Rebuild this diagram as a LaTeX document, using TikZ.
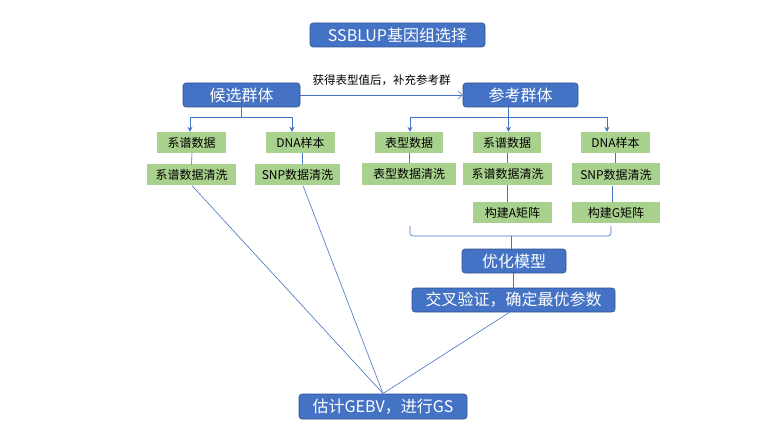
\documentclass[tikz,border=0pt]{standalone}
\usepackage{fontspec}
\setmainfont{Noto Sans CJK SC}
\usetikzlibrary{arrows.meta}
\definecolor{obl}{HTML}{4472C4}
\definecolor{obd}{HTML}{2F528F}
\definecolor{ogr}{HTML}{A9D18E}
\begin{document}
\begin{tikzpicture}[x=1pt,y=-1pt,
  bluebox/.style={draw=obd,line width=0.6pt,fill=obl,rounded corners=3pt,text=white,inner sep=0pt,font=\fontsize{16}{19}\selectfont,minimum height=24pt},
  greenbox/.style={fill=ogr,inner sep=0pt,font=\fontsize{12}{14}\selectfont,minimum height=21pt},
  conn/.style={draw=obl,line width=0.6pt},
  arr/.style={conn,-{Stealth[length=5pt,width=5pt]}}]
\useasboundingbox (0,0) rectangle (775,446);
% blue boxes
\node[bluebox,minimum width=175pt] (title) at (397.5,35) {SSBLUP基因组选择};
\node[bluebox,minimum width=117pt] (cand) at (241.5,95) {候选群体};
\node[bluebox,minimum width=115pt] (ref) at (520.5,95) {参考群体};
\node[bluebox,minimum width=104pt] (opt) at (514,261) {优化模型};
\node[bluebox,minimum width=203pt] (cv) at (513.5,300) {交叉验证，确定最优参数};
\node[bluebox,minimum width=168pt,minimum height=25pt] (gebv) at (383,406.5) {估计GEBV，进行GS};
% green boxes left
\node[greenbox,minimum width=69pt] (l1) at (191.5,142.5) {系谱数据};
\node[greenbox,minimum width=69pt] (l2) at (300.5,142.5) {DNA样本};
\node[greenbox,minimum width=89pt] (l3) at (191.5,175) {系谱数据清洗};
\node[greenbox,minimum width=85pt] (l4) at (297.5,175) {SNP数据清洗};
% green boxes right
\node[greenbox,minimum width=68pt] (r1) at (409,142.5) {表型数据};
\node[greenbox,minimum width=68pt] (r2) at (507,142.5) {系谱数据};
\node[greenbox,minimum width=69pt] (r3) at (615.5,142.5) {DNA样本};
\node[greenbox,minimum width=94pt,minimum height=22pt] (r4) at (409,174) {表型数据清洗};
\node[greenbox,minimum width=89pt,minimum height=22pt] (r5) at (507.5,174) {系谱数据清洗};
\node[greenbox,minimum width=88pt,minimum height=22pt] (r6) at (616,174.5) {SNP数据清洗};
\node[greenbox,minimum width=79pt] (r7) at (512.5,212.5) {构建A矩阵};
\node[greenbox,minimum width=88pt] (r8) at (616,212.5) {构建G矩阵};
% main arrow
\draw[conn,-{Straight Barb[length=4pt,width=8pt]}] (cand.east) -- (ref.west)
  node[midway,above=6pt,text=black,font=\fontsize{11.5}{13}\selectfont] {获得表型值后，补充参考群};
% candidate tree
\coordinate (cj) at (241.5,117);
\draw[conn] (cand.south -| cj) -- (cj);
\draw[arr] (cj) -| ([xshift=-1.5pt]l1.north);
\draw[arr] (cj) -| ([xshift=-8.5pt]l2.north);
% reference tree
\coordinate (rj) at (508.5,117);
\draw[conn] (ref.south -| rj) -- (rj);
\draw[arr] (rj) -| ([xshift=1pt]r1.north);
\draw[arr] (rj) -- ([xshift=1.5pt]r2.north);
\draw[arr] (rj) -| ([xshift=-8.5pt]r3.north);
% vertical links
\draw[conn] ([xshift=0.5pt]l1.south) -- (l1.south |- l3.north);
\draw[conn] ([xshift=1.5pt]l2.south) -- ([xshift=1.5pt]l2.south |- l4.north);
\draw[conn] (r1.south) -- (r1.south |- r4.north);
\draw[conn] (r2.south) -- (r2.south |- r5.north);
\draw[conn] (r5.south -| r2.south) -- (r2.south |- r7.north);
\draw[conn] (r3.south) -- (r3.south |- r6.north);
\draw[conn] ([xshift=-4pt]r6.south) -- ([xshift=-4pt]r8.north);
% brace
\coordinate (bl) at (410,226);
\coordinate (br) at (611,226);
\coordinate (bm) at (511,236);
\draw[conn,rounded corners=3pt] (bl) -- (410,236) -- (611,236) -- (br);
\draw[conn] (bm) -- (bm |- opt.north);
\draw[conn] (opt.south -| 513,0) -- (cv.north -| 513,0);
% converging lines
\coordinate (gp) at (383,393.5);
\draw[conn] ([xshift=0.5pt]l3.south) -- (gp);
\draw[conn] ([xshift=5.5pt]l4.south) -- (gp);
\draw[conn] ([xshift=-4pt]cv.south) -- (gp);
\end{tikzpicture}
\end{document}
